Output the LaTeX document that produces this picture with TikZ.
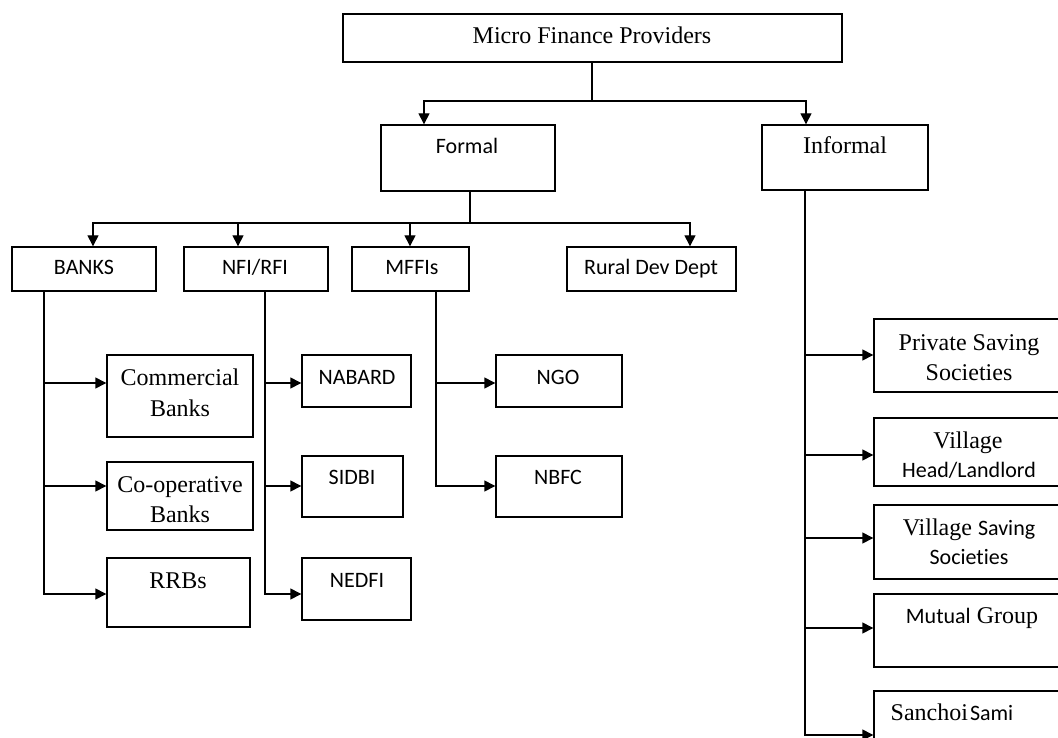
\documentclass[tikz,border=0pt]{standalone}
\usepackage{fontspec}
\setmainfont{Liberation Serif}
\newfontfamily\sansf[Ligatures=NoCommon]{Carlito}
\usetikzlibrary{arrows.meta}
\tikzset{
  box/.style={draw, line width=1.4pt, inner sep=0pt, rectangle},
  ln/.style={line width=1.4pt},
  arr/.style={-{Triangle[length=11pt,width=11pt]}},
  ser/.style={font=\fontsize{24}{28}\selectfont, anchor=base, inner sep=0pt},
  san/.style={font=\sansf\fontsize{22}{26}\selectfont, anchor=base, inner sep=0pt},
}
\newcommand\bx[5]{\node[box, minimum width={#4pt-#2pt}, minimum height={#5pt-#3pt}] (#1) at ({(#2+#4)/2},{(#3+#5)/2}) {};}
\newcommand\ssf[1]{{\sansf\fontsize{22}{26}\selectfont #1}}
\begin{document}
\begin{tikzpicture}[x=1pt,y=-1pt]
\useasboundingbox (0,0) rectangle (1058,738);
\clip (0,0) rectangle (1058,738);
% boxes
\bx{mfp}{343}{14}{842}{62}
\bx{formal}{381}{125}{555}{191}
\bx{informal}{762}{125}{928}{190}
\bx{banks}{12}{247}{156}{291}
\bx{nfi}{184}{247}{328}{291}
\bx{mffi}{352}{247}{469}{291}
\bx{rural}{567}{247}{736}{291}
\bx{cb}{107}{355}{253}{437}
\bx{coop}{107}{462}{253}{530}
\bx{rrb}{107}{558}{250}{627}
\bx{nabard}{302}{355}{411}{407}
\bx{sidbi}{302}{456}{403}{517}
\bx{nedfi}{302}{558}{411}{620}
\bx{ngo}{496}{355}{622}{407}
\bx{nbfc}{496}{456}{622}{517}
\bx{psav}{874}{319}{1090}{392}
\bx{vhead}{874}{418}{1090}{486}
\bx{vsav}{874}{505}{1090}{579}
\bx{mutual}{874}{594}{1090}{667}
\bx{sanchoi}{874}{691}{1090}{800}
% texts
\node[ser] (tmfp) at (592,44) {Micro Finance Providers};
\node[san] (tformal) at (467,154) {Formal};
\node[ser] (tinformal) at (845,154) {Informal};
\node[san] (tbanks) at (84,275) {BANKS};
\node[san] (tnfi) at (255,275) {NFI/RFI};
\node[san] (tmffi) at (412,275) {MFFIs};
\node[san] (trural) at (651,275) {Rural Dev Dept};
\node[ser] (tcb1) at (180,385) {Commercial};
\node[ser] (tcb2) at (180,416) {Banks};
\node[ser] (tco1) at (180,492) {Co-operative};
\node[ser] (tco2) at (180,522) {Banks};
\node[ser] (trrb) at (178,588) {RRBs};
\node[san] (tnabard) at (357,384) {NABARD};
\node[san] (tsidbi) at (352,484) {SIDBI};
\node[san] (tnedfi) at (357,587) {NEDFI};
\node[san] (tngo) at (558,384) {NGO};
\node[san] (tnbfc) at (558,484) {NBFC};
\node[ser] (tps1) at (969,350) {Private Saving};
\node[ser] (tps2) at (969,380) {Societies};
\node[ser] (tvh1) at (968,448) {Village};
\node[san] (tvh2) at (969,477) {Head/Landlord};
\node[ser] (tvs1) at (969,535) {Village \ssf{Saving}};
\node[san] (tvs2) at (969,564) {Societies};
\node[ser] (tmg) at (972,623) {\ssf{Mutual} Group};
\node[ser] (tsa) at (952,720) {Sanchoi\hspace{2pt}\ssf{Sami}};
% connectors
\coordinate (t1) at (592,101);
\draw[ln] (mfp.south -| t1) -- (t1);
\draw[ln,arr] (t1) -| (formal.north -| 424,0);
\draw[ln,arr] (t1) -| (informal.north -| 806,0);
\coordinate (f1) at (470,223);
\draw[ln] (formal.south -| f1) -- (f1);
\draw[ln,arr] (f1) -| (banks.north -| 93,0);
\draw[ln,arr] (f1) -| (nfi.north -| 238,0);
\draw[ln,arr] (f1) -| (mffi.north -| 410,0);
\draw[ln,arr] (f1) -| (rural.north -| 690,0);
% banks
\draw[ln,arr] (banks.south -| 44,0) |- (rrb.west |- 0,594);
\draw[ln,arr] (44,383) -- (cb.west |- 0,383);
\draw[ln,arr] (44,486) -- (coop.west |- 0,486);
% nfi
\draw[ln,arr] (nfi.south -| 265,0) |- (nedfi.west |- 0,594);
\draw[ln,arr] (265,383) -- (nabard.west |- 0,383);
\draw[ln,arr] (265,486) -- (sidbi.west |- 0,486);
% mffi
\draw[ln,arr] (mffi.south -| 436,0) |- (nbfc.west |- 0,486);
\draw[ln,arr] (436,383) -- (ngo.west |- 0,383);
% informal
\draw[ln,arr] (informal.south -| 805,0) |- (sanchoi.west |- 0,735);
\draw[ln,arr] (805,355) -- (psav.west |- 0,355);
\draw[ln,arr] (805,455) -- (vhead.west |- 0,455);
\draw[ln,arr] (805,538) -- (vsav.west |- 0,538);
\draw[ln,arr] (805,628) -- (mutual.west |- 0,628);
\end{tikzpicture}
\end{document}
